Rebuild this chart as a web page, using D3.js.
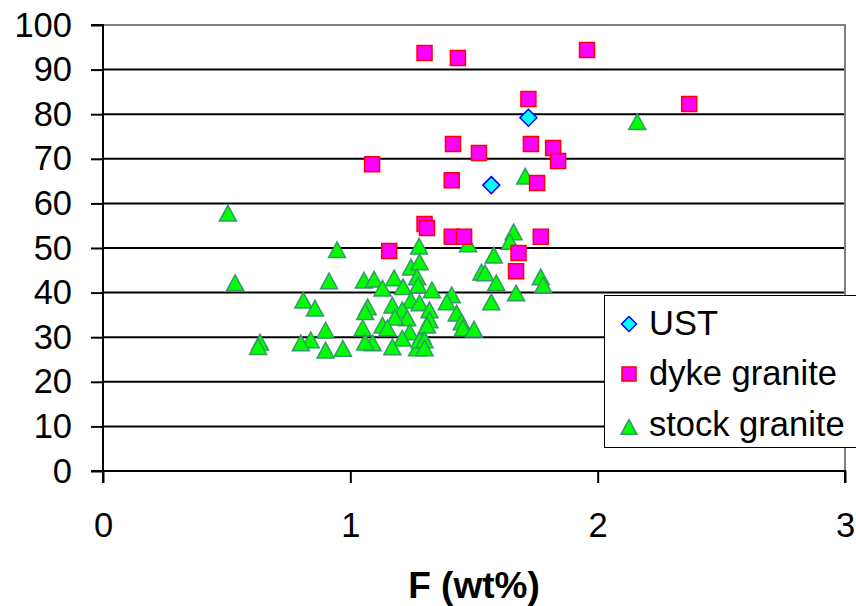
<!DOCTYPE html>
<html><head><meta charset="utf-8">
<script src="https://cdn.jsdelivr.net/npm/d3@7"></script>
<style>
html,body{margin:0;padding:0;background:#fff;}
svg{display:block;font-family:"Liberation Sans",Arial,sans-serif;}
</style></head>
<body>
<script>
const xTicks = [0, 1, 2, 3];
const yTicks = [0, 10, 20, 30, 40, 50, 60, 70, 80, 90, 100];
const seriesNames = ["UST", "dyke granite", "stock granite"];
const xTitle = "F (wt%)";

const ustF = [1.72, 1.57];
const ustY = [79.2, 64.1];

const dykeF = [1.30, 1.435, 1.957, 1.72, 2.37, 1.088, 1.415, 1.52, 1.73, 1.82, 1.84, 1.41, 1.755, 1.30, 1.31, 1.41, 1.46, 1.77, 1.157, 1.68, 1.67];
const dykeY = [93.7, 92.6, 94.4, 83.4, 82.3, 68.8, 73.3, 71.3, 73.3, 72.4, 69.5, 65.2, 64.6, 55.4, 54.5, 52.5, 52.5, 52.5, 49.3, 48.9, 44.8];

const stockF = [0.505, 0.534, 0.635, 0.627, 2.16, 1.707, 0.946, 0.914, 0.81, 0.857, 0.90, 0.84, 0.80, 0.90, 0.97,
  1.278, 1.245, 1.28, 1.27, 1.055, 1.096, 1.177, 1.13, 1.213, 1.274, 1.33, 1.07, 1.06, 1.17, 1.245, 1.28, 1.21, 1.32,
  1.23, 1.18, 1.13, 1.15, 1.32, 1.05, 1.24, 1.29, 1.21, 1.09, 1.06, 1.17, 1.27, 1.28, 1.476, 1.66, 1.645, 1.58, 1.53,
  1.545, 1.59, 1.77, 1.78, 1.67, 1.57, 1.41, 1.39, 1.43, 1.45, 1.455, 1.50, 1.31, 1.30, 1.30];
const stockY = [57.8, 42.2, 28.9, 27.9, 78.3, 66.1, 49.6, 42.6, 38.3, 36.5, 31.6, 29.4, 28.7, 27.1, 27.5,
  50.4, 45.7, 46.9, 43.5, 42.8, 43.0, 43.3, 41.0, 41.3, 41.7, 40.6, 36.8, 35.7, 37.2, 38.3, 37.7, 36.1, 36.1,
  34.3, 34.5, 32.7, 32.1, 33.9, 32.1, 31.2, 30.5, 29.8, 28.7, 28.9, 27.8, 27.6, 29.4, 50.9, 53.6, 51.5, 48.4, 44.6,
  44.4, 42.2, 43.5, 41.7, 39.9, 37.9, 39.5, 37.9, 35.4, 33.4, 32.1, 31.8, 32.7, 29.4, 27.6];

const W = 856, H = 606;
const svg = d3.select("body").append("svg").attr("width", W).attr("height", H);

const x = d3.scaleLinear().domain([0, 3]).range([103, 845]);
const y = d3.scaleLinear().domain([0, 100]).range([471, 25]);
const FS = 34.5;

// gridlines
svg.append("g").selectAll("line").data(yTicks.filter(d => d > 0 && d < 100)).join("line")
  .attr("x1", x(0)).attr("x2", x(3)).attr("y1", d => y(d)).attr("y2", d => y(d))
  .attr("stroke", "#000").attr("stroke-width", 2);
// plot border (top, right) gray
svg.append("path")
  .attr("d", `M${x(0)},${y(100)}H${x(3)}V${y(0)}`)
  .attr("fill", "none").attr("stroke", "#808080").attr("stroke-width", 2);

// axes
const yAxis = svg.append("g").attr("transform", `translate(${x(0)},0)`)
  .call(d3.axisLeft(y).tickValues(yTicks).tickSize(12).tickPadding(19).tickFormat(d3.format("d")));
const xAxis = svg.append("g").attr("transform", `translate(0,${y(0)})`)
  .call(d3.axisBottom(x).tickValues(xTicks).tickSize(12).tickPadding(30).tickFormat(d3.format("d")));
[yAxis, xAxis].forEach(a => {
  a.select(".domain").attr("stroke", "#000").attr("stroke-width", 2);
  a.selectAll(".tick line").attr("stroke", "#000").attr("stroke-width", 2);
  a.selectAll(".tick text").attr("fill", "#000").attr("font-size", FS)
    .attr("font-family", "'Liberation Sans', Arial, sans-serif");
});
xAxis.select(".domain").attr("d", `M${x(0)},12V0H${x(3)}V12`);
yAxis.select(".domain").attr("d", `M-12,${y(100)}H0V${y(0)}H-12`);

// x title
svg.append("text").attr("x", 474).attr("y", 598).attr("text-anchor", "middle")
  .attr("font-size", 37).attr("font-weight", "bold").attr("fill", "#000").text(xTitle);

function triPath(s) {
  const h = s * 0.92;
  return `M0,${-h/2}L${s/2},${h/2}L${-s/2},${h/2}Z`;
}
function sqPath(s) { return `M${-s/2},${-s/2}h${s}v${s}h${-s}Z`; }
function diaPath(s) { return `M0,${-s/2}L${s/2},0L0,${s/2}L${-s/2},0Z`; }

const stock = stockF.map((f, i) => ({ f, v: stockY[i] }));
const dyke = dykeF.map((f, i) => ({ f, v: dykeY[i] }));
const ust = ustF.map((f, i) => ({ f, v: ustY[i] }));

svg.append("g").selectAll("path").data(stock).join("path")
  .attr("transform", d => `translate(${x(d.f)},${y(d.v)})`)
  .attr("d", triPath(17)).attr("fill", "#00FF00").attr("stroke", "#339966").attr("stroke-width", 1.5);
svg.append("g").selectAll("path").data(dyke).join("path")
  .attr("transform", d => `translate(${x(d.f)},${y(d.v)})`)
  .attr("d", sqPath(15)).attr("fill", "#FF00FF").attr("stroke", "#FF0000").attr("stroke-width", 1.5);
svg.append("g").selectAll("path").data(ust).join("path")
  .attr("transform", d => `translate(${x(d.f)},${y(d.v)})`)
  .attr("d", diaPath(17)).attr("fill", "#00FFFF").attr("stroke", "#0000FF").attr("stroke-width", 1.5);

// legend
const lg = svg.append("g");
lg.append("rect").attr("x", 604.5).attr("y", 295.5).attr("width", 280).attr("height", 152)
  .attr("fill", "#fff").attr("stroke", "#000").attr("stroke-width", 1);
const legItems = [
  { name: seriesNames[0], d: diaPath(15), fill: "#00FFFF", stroke: "#0000FF", cy: 324, base: 335 },
  { name: seriesNames[1], d: sqPath(14), fill: "#FF00FF", stroke: "#FF0000", cy: 374, base: 385 },
  { name: seriesNames[2], d: triPath(16), fill: "#00FF00", stroke: "#339966", cy: 427, base: 436 }
];
legItems.forEach(it => {
  lg.append("path").attr("transform", `translate(629,${it.cy})`).attr("d", it.d)
    .attr("fill", it.fill).attr("stroke", it.stroke).attr("stroke-width", 1.5);
  lg.append("text").attr("x", 649).attr("y", it.base).attr("font-size", FS).attr("fill", "#000").text(it.name);
});
</script>
</body></html>
